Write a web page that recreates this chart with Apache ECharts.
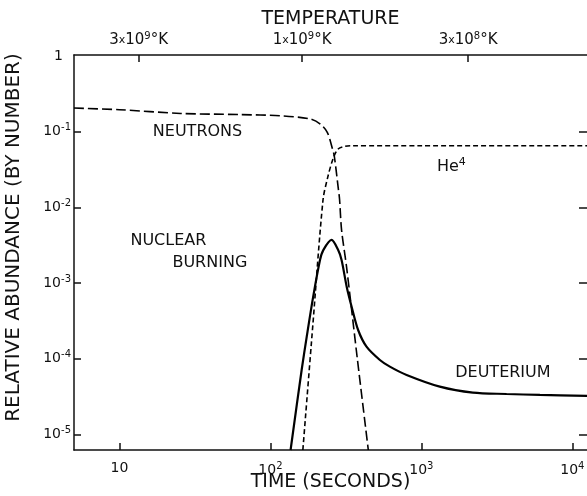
<!DOCTYPE html>
<html>
<head>
<meta charset="utf-8">
<script src="https://cdn.jsdelivr.net/npm/echarts@6/dist/echarts.min.js"></script>
<style>html,body{margin:0;padding:0;background:#fff;}#c{width:587px;height:496px;}</style>
</head>
<body>
<div id="c"></div>
<script>
// ---- data (time in seconds, abundance by number) ----
var neutronsT = [5, 10, 25.4, 63, 116, 184, 214, 238, 258, 265, 282, 287, 296, 319, 377, 445];
var neutronsY = [0.205, 0.195, 0.174, 0.168, 0.162, 0.147, 0.126, 0.098, 0.0586, 0.0473, 0.0173, 0.0128, 5.0e-3, 1.66e-3, 9.7e-5, 6.2e-6];

var heliumT = [164, 191, 223, 240, 261, 281, 312, 347, 1000, 12500];
var heliumY = [6.2e-6, 2.79e-4, 0.0125, 0.0252, 0.0449, 0.059, 0.0641, 0.065, 0.065, 0.065];

var deuteriumT = [136, 161, 174, 192, 213, 224, 254, 281, 296, 320, 345, 381, 433, 531, 618, 798, 1324, 2193, 3664, 6095, 12500];
var deuteriumY = [6.2e-6, 7.08e-5, 1.95e-4, 6.59e-4, 2.01e-3, 2.72e-3, 3.70e-3, 2.72e-3, 2.01e-3, 8.93e-4, 4.86e-4, 2.39e-4, 1.44e-4, 9.6e-5, 7.83e-5, 6.08e-5, 4.26e-5, 3.55e-5, 3.41e-5, 3.31e-5, 3.21e-5];

var timeTicks = [10, 100, 1000, 10000];
var timeTickLabels = ['10', '10{sup|2}', '10{sup|3}', '10{sup|4}'];
var abundTicks = [1e-5, 1e-4, 1e-3, 1e-2, 1e-1, 1];
var abundTickLabels = ['10{sup|-5}', '10{sup|-4}', '10{sup|-3}', '10{sup|-2}', '10{sup|-1}', '{one|1}'];
var tempTickT = [13.4, 162, 2040];
var tempTickLabels = ['3{s|x}10{sup|9}°K', '1{s|x}10{sup|9}°K', '3{s|x}10{sup|8}°K'];

var annoText = ['NEUTRONS', 'NUCLEAR', 'BURNING', 'He{sup|4}', 'DEUTERIUM'];
var annoT = [32.9, 21.1, 39.7, 1581, 3467];
var annoY = [0.1, 3.55e-3, 1.87e-3, 0.0343, 6.53e-5];

function zip(a, b) { return a.map(function (v, i) { return [v, b[i]]; }); }
function labelFor(ticks, labels) {
  return function (v) {
    var best = 0, bd = Infinity;
    for (var i = 0; i < ticks.length; i++) {
      var d = Math.abs(Math.log(v) - Math.log(ticks[i]));
      if (d < bd) { bd = d; best = i; }
    }
    return labels[best];
  };
}

var FONT = 'DejaVu Sans';
var INK = '#111';
var supRich = {
  sup: { fontSize: 10, fontFamily: FONT, color: INK, padding: [0, 0, 8, 0] },
  s: { fontSize: 11, fontFamily: FONT, color: INK },
  one: { fontSize: 14, fontFamily: FONT, color: INK, padding: [0, 8, 0, 0] }
};

var xMin = 5, xMax = 12500, yMin = 6.2e-6, yMax = 1.03;

var chart = echarts.init(document.getElementById('c'));
chart.setOption({
  backgroundColor: '#fff',
  animation: false,
  grid: { left: 74, top: 55, right: 0, bottom: 46, containLabel: false, outerBoundsMode: 'none' },
  xAxis: [{
    type: 'log', logBase: 10, min: xMin, max: xMax, position: 'bottom',
    name: 'TIME (SECONDS)', nameLocation: 'middle', nameGap: 23, nameMoveOverlap: false,
    nameTextStyle: { fontFamily: FONT, fontSize: 19, color: INK },
    axisLine: { show: true, lineStyle: { color: INK, width: 1.5 } },
    axisTick: { show: true, inside: true, length: 7, lineStyle: { color: INK, width: 1.5 }, customValues: timeTicks },
    axisLabel: { fontFamily: FONT, fontSize: 14, color: INK, margin: 11, customValues: timeTicks,
      formatter: labelFor(timeTicks, timeTickLabels), rich: supRich },
    splitLine: { show: false }, minorTick: { show: false }
  }, {
    type: 'log', logBase: 10, min: xMin, max: xMax, position: 'top',
    name: 'TEMPERATURE', nameLocation: 'middle', nameGap: 26, nameMoveOverlap: false,
    nameTextStyle: { fontFamily: FONT, fontSize: 19, color: INK },
    axisLine: { show: true, lineStyle: { color: INK, width: 1.5 } },
    axisTick: { show: true, inside: true, length: 7, lineStyle: { color: INK, width: 1.5 }, customValues: tempTickT },
    axisLabel: { fontFamily: FONT, fontSize: 15, color: INK, margin: 6, customValues: tempTickT,
      formatter: labelFor(tempTickT, tempTickLabels), rich: supRich },
    splitLine: { show: false }
  }],
  yAxis: [{
    type: 'log', logBase: 10, min: yMin, max: yMax, position: 'left',
    name: 'RELATIVE ABUNDANCE (BY NUMBER)', nameLocation: 'middle', nameGap: 50, nameMoveOverlap: false,
    nameTextStyle: { fontFamily: FONT, fontSize: 20, color: INK, padding: [0, 0, 0, 30] },
    axisLine: { show: true, lineStyle: { color: INK, width: 1.5 } },
    axisTick: { show: true, inside: true, length: 7, lineStyle: { color: INK, width: 1.5 }, customValues: abundTicks.slice(0, 5) },
    axisLabel: { fontFamily: FONT, fontSize: 14, color: INK, margin: 3, customValues: abundTicks,
      formatter: labelFor(abundTicks, abundTickLabels), rich: supRich },
    splitLine: { show: false }
  }, {
    type: 'log', logBase: 10, min: yMin, max: yMax, position: 'right',
    axisLine: { show: false },
    axisTick: { show: true, inside: true, length: 8, lineStyle: { color: INK, width: 1.5 }, customValues: abundTicks.slice(0, 5) },
    axisLabel: { show: false },
    splitLine: { show: false }
  }],
  series: [{
    type: 'line', name: 'Neutrons', data: zip(neutronsT, neutronsY), smooth: 0.3, symbol: 'none',
    lineStyle: { color: '#000', width: 1.6, type: [10, 4] }, clip: true
  }, {
    type: 'line', name: 'He4', data: zip(heliumT, heliumY), smooth: 0.3, symbol: 'none',
    lineStyle: { color: '#000', width: 1.6, type: [5, 3] }, clip: true
  }, {
    type: 'line', name: 'Deuterium', data: zip(deuteriumT, deuteriumY), smooth: 0.3, symbol: 'none',
    lineStyle: { color: '#000', width: 2.2 }, clip: true
  }, {
    type: 'scatter', symbolSize: 0, silent: true, itemStyle: { opacity: 1 },
    data: annoT.map(function (t, i) { return { value: [t, annoY[i]], label: { formatter: annoText[i] } }; }),
    label: { show: true, position: 'inside', fontFamily: FONT, fontSize: 16, color: INK, opacity: 1,
      rich: { sup: { fontSize: 11, fontFamily: FONT, color: INK, padding: [0, 0, 9, 0] } } }
  }]
});
</script>
</body>
</html>
